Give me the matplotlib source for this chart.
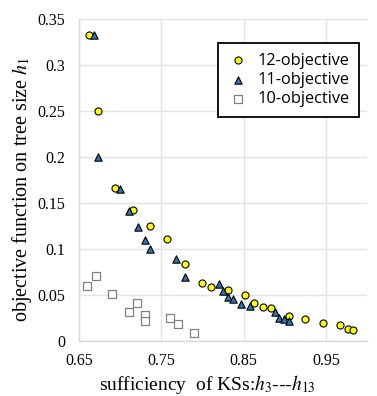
import matplotlib
matplotlib.use("Agg")
import matplotlib.pyplot as plt

# 12-objective
x12 = [0.6625, 0.673, 0.694, 0.716, 0.736, 0.757, 0.779, 0.799, 0.810, 0.831,
       0.852, 0.862, 0.873, 0.883, 0.905, 0.925, 0.946, 0.967, 0.977, 0.983]
y12 = [0.333, 0.250, 0.1667, 0.142, 0.125, 0.111, 0.0833, 0.0625, 0.0588, 0.0556,
       0.050, 0.0417, 0.037, 0.0357, 0.0275, 0.024, 0.0196, 0.0172, 0.0127, 0.012]
# 11-objective
x11 = [0.668, 0.673, 0.700, 0.710, 0.721, 0.730, 0.736, 0.768, 0.779, 0.8205,
       0.825, 0.831, 0.837, 0.847, 0.857, 0.888, 0.893, 0.899, 0.905]
y11 = [0.333, 0.200, 0.165, 0.1416, 0.124, 0.110, 0.100, 0.089, 0.070, 0.062,
       0.054, 0.0475, 0.0453, 0.040, 0.038, 0.031, 0.025, 0.0237, 0.0217]
# 10-objective
x10 = [0.660, 0.670, 0.690, 0.710, 0.720, 0.730, 0.730, 0.760, 0.770, 0.789]
y10 = [0.0594, 0.0703, 0.0514, 0.0319, 0.0413, 0.0283, 0.022, 0.025, 0.0185, 0.0083]

xticks = [0.65, 0.75, 0.85, 0.95]
xticklabels = ["0.65", "0.75", "0.85", "0.95"]
yticks = [0, 0.05, 0.1, 0.15, 0.2, 0.25, 0.3, 0.35]
yticklabels = ["0", "0.05", "0.1", "0.15", "0.2", "0.25", "0.3", "0.35"]

plt.rcParams['mathtext.fontset'] = 'stix'
serif = 'Liberation Serif'

fig = plt.figure(figsize=(3.77, 3.96), dpi=100)
ax = fig.add_axes([0.210, 0.139, 0.764, 0.813])

ax.scatter(x12, y12, s=26, marker='o', facecolor='#FFFF00', edgecolor='black',
           linewidth=0.8, label='12-objective', zorder=3)
ax.scatter(x11, y11, s=28, marker='^', facecolor='#2E75B6', edgecolor='black',
           linewidth=0.8, label='11-objective', zorder=4)
ax.scatter(x10, y10, s=30, marker='s', facecolor='white', edgecolor='#808080',
           linewidth=0.9, label='10-objective', zorder=2)

ax.set_xlim(0.65, 1.0)
ax.set_ylim(0, 0.35)
ax.set_xticks(xticks)
ax.set_xticklabels(xticklabels, fontfamily=serif, fontsize=11.5)
ax.set_yticks(yticks)
ax.set_yticklabels(yticklabels, fontfamily=serif, fontsize=11.5)
ax.tick_params(axis='y', length=0, pad=10)
ax.tick_params(axis='x', length=0, pad=9)
ax.grid(True, color='#e3e3e3', linewidth=1.0)
ax.set_axisbelow(True)
for s in ['top', 'right']:
    ax.spines[s].set_visible(False)
for s in ['left', 'bottom']:
    ax.spines[s].set_color('#d9d9d9')
    ax.spines[s].set_linewidth(1.0)

ax.set_xlabel(r'sufficiency  of KSs:$h_3$---$h_{13}$', fontfamily=serif,
              fontsize=14)
ax.xaxis.set_label_coords(0.444, -0.098)
ax.set_ylabel(r'objective function on tree size $h_1$', fontfamily=serif,
              fontsize=14.5)
ax.yaxis.set_label_coords(-0.158, 0.47)

leg = ax.legend(loc='upper right', bbox_to_anchor=(0.972, 0.926),
                borderaxespad=0,
                prop={'family': 'Open Sans', 'size': 11.8},
                fancybox=False, framealpha=1, edgecolor='black',
                handletextpad=0.6, labelspacing=0.2, borderpad=0.6,
                handlelength=1.2)
leg.get_frame().set_linewidth(1.3)

fig.savefig('out.png', dpi=100)
